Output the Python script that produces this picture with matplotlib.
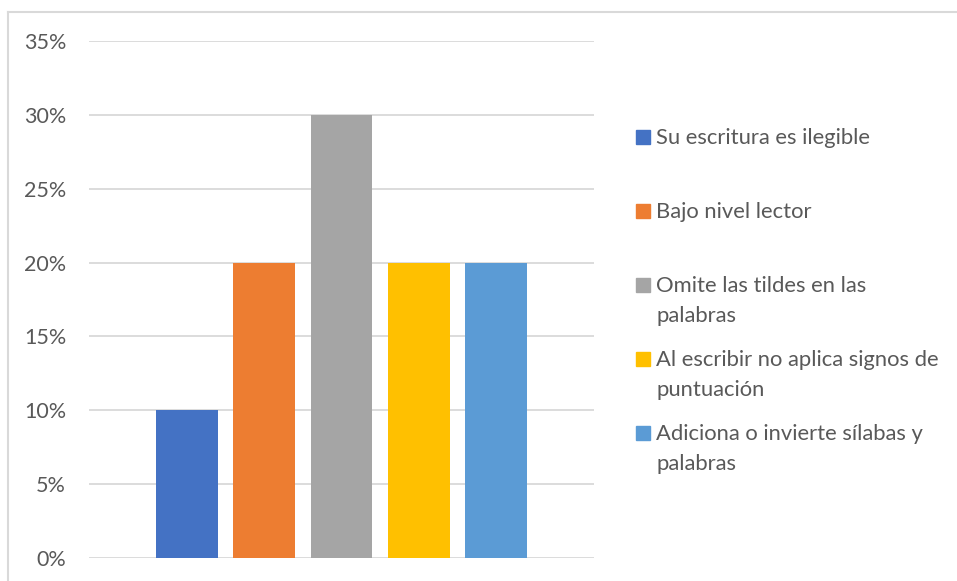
import matplotlib
matplotlib.use("Agg")
import matplotlib.pyplot as plt
from matplotlib.patches import Rectangle
from matplotlib.ticker import FuncFormatter
from matplotlib.lines import Line2D

categories = ["Su escritura es ilegible", "Bajo nivel lector",
              "Omite las tildes en las\npalabras",
              "Al escribir no aplica signos de\npuntuación",
              "Adiciona o invierte sílabas y\npalabras"]
values = [0.10, 0.20, 0.30, 0.20, 0.20]
colors = ["#4472C4", "#ED7D31", "#A5A5A5", "#FFC000", "#5B9BD5"]
yticks = [0, 0.05, 0.10, 0.15, 0.20, 0.25, 0.30, 0.35]

W, H = 957, 581
fig = plt.figure(figsize=(W / 100, H / 100), dpi=100)
plt.rcParams['font.family'] = ['Lato', 'DejaVu Sans']
txt = "#595959"
fs = 15.8

# plot area: x 89..594, y 41..558 (pixels from top)
ax = fig.add_axes([89 / W, 1 - 558 / H, (594 - 89) / W, (558 - 41) / H])
x = list(range(len(values)))
ax.bar(x, values, width=0.8, color=colors, zorder=3)
ax.set_xlim(-1.263, 5.263)
ax.set_ylim(0, 0.35)
ax.set_yticks(yticks)
ax.yaxis.set_major_formatter(FuncFormatter(lambda v, p: f"{v*100:.0f}%"))
ax.set_xticks([])
ax.grid(axis="y", color="#D9D9D9", linewidth=1.3, zorder=0)
for s in ax.spines.values():
    s.set_visible(False)
ax.tick_params(axis="y", length=0, pad=16.5, labelsize=15.5, labelcolor=txt)

# chart border (top and left visible)
fig.add_artist(Line2D([8 / W, 1.0], [1 - 12 / H, 1 - 12 / H], color="#D9D9D9", lw=1.5))
fig.add_artist(Line2D([8 / W, 8 / W], [1 - 12 / H, 0], color="#D9D9D9", lw=1.5))

# legend (manual, Excel-like spacing)
baselines = [144, 218, 292, 366, 440]
line_step = 30
for lbl, c, yb in zip(categories, colors, baselines):
    fig.add_artist(Rectangle((636 / W, 1 - yb / H), 14 / W, 14 / H,
                             color=c, transform=fig.transFigure))
    for i, line in enumerate(lbl.split("\n")):
        fig.text(656 / W, 1 - (yb + i * line_step) / H, line, ha="left",
                 va="baseline", fontsize=fs, color=txt)

fig.savefig("out.png", dpi=100)
